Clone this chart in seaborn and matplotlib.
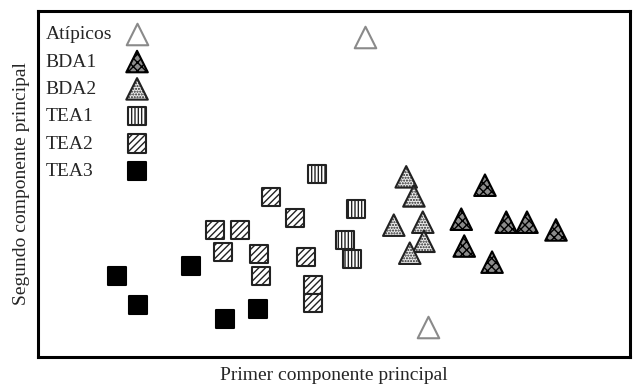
import pandas as pd
import matplotlib
matplotlib.use("Agg")
import matplotlib.pyplot as plt
import seaborn as sns

# PCA scores (arbitrary units)
groups = ["Atípicos", "BDA1", "BDA2", "TEA1", "TEA2", "TEA3"]

atipicos_x = [0.52, 1.59]
atipicos_y = [2.76, -2.10]

bda1_x = [2.55, 2.15, 2.91, 3.26, 3.75, 2.20, 2.67]
bda1_y = [0.28, -0.29, -0.34, -0.34, -0.47, -0.74, -1.01]

bda2_x = [1.22, 1.35, 1.01, 1.50, 1.52, 1.28]
bda2_y = [0.42, 0.10, -0.39, -0.34, -0.66, -0.86]

tea1_x = [-0.29, 0.37, 0.19, 0.30]
tea1_y = [0.47, -0.12, -0.64, -0.96]

tea2_x = [-1.06, -0.66, -2.01, -1.59, -1.88, -1.27, -1.23, -0.47, -0.35, -0.35]
tea2_y = [0.08, -0.27, -0.47, -0.47, -0.84, -0.87, -1.24, -0.92, -1.39, -1.69]

tea3_x = [-3.67, -3.31, -2.42, -1.84, -1.28]
tea3_y = [-1.24, -1.73, -1.07, -1.96, -1.80]

xs = [atipicos_x, bda1_x, bda2_x, tea1_x, tea2_x, tea3_x]
ys = [atipicos_y, bda1_y, bda2_y, tea1_y, tea2_y, tea3_y]

# marker, size, face, edge, hatch
styles = {
    "Atípicos": ("^", 240, "white", "#8a8a8a", None),
    "BDA1": ("^", 240, "#8c8c8c", "black", "xxxx"),
    "BDA2": ("^", 240, "#ececec", "#222222", "......"),
    "TEA1": ("s", 170, "white", "#222222", "|||||"),
    "TEA2": ("s", 170, "white", "#222222", "/////"),
    "TEA3": ("s", 170, "black", "black", None),
}

sns.set_style("white")
plt.rcParams["font.family"] = ["Liberation Serif", "DejaVu Serif"]
plt.rcParams["hatch.linewidth"] = 1.0

fig = plt.figure(figsize=(6.34, 3.85), dpi=100)
ax = fig.add_axes([38 / 634, 28 / 385, 592 / 634, 346 / 385])

for g, x, y in zip(groups, xs, ys):
    marker, s, fc, ec, hatch = styles[g]
    df = pd.DataFrame({"x": x, "y": y})
    sns.scatterplot(data=df, x="x", y="y", marker=marker, s=s, color=fc,
                    edgecolor=ec, linewidth=1.5, label=g, ax=ax, zorder=3)
    if hatch:
        ax.collections[-1].set_hatch(hatch)

ax.set_xlim(-5, 5)
ax.set_ylim(-2.6, 3.2)
ax.set_xticks([])
ax.set_yticks([])
ax.set_xlabel("Primer componente principal", fontsize=14, labelpad=7)
ax.set_ylabel("Segundo componente principal", fontsize=14, labelpad=6)
for sp in ax.spines.values():
    sp.set_visible(True)
    sp.set_color("black")
    sp.set_linewidth(2.2)

leg = ax.legend(loc="upper left", bbox_to_anchor=(0.0, 0.98), frameon=False,
                markerfirst=False, fontsize=14, labelspacing=0.5,
                handletextpad=0.6, borderaxespad=0.1, borderpad=0.3,
                handlelength=1.0)
# labels left-aligned, markers in one column on the right
for col in leg._legend_handle_box.get_children():
    for row in col.get_children():
        row.mode = "expand"
        row.width = 101

fig.savefig("out.png", dpi=100)
